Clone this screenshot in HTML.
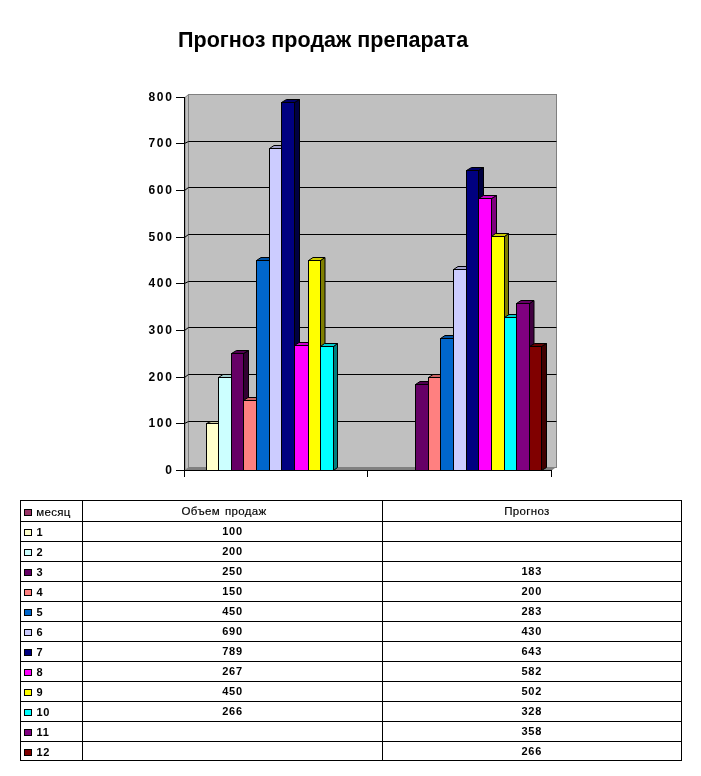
<!DOCTYPE html>
<html lang="ru"><head><meta charset="utf-8"><title>Прогноз продаж препарата</title>
<style>
html,body{margin:0;padding:0;background:#fff;}
body{width:701px;height:776px;position:relative;overflow:hidden;font-family:"Liberation Sans",sans-serif;}
svg text{font-family:"Liberation Sans",sans-serif;fill:#000;}
.title{font-size:21.55px;font-weight:bold;}
.ax{font-size:12px;font-weight:bold;letter-spacing:1.8px;}
.tb{font-size:11px;font-weight:bold;letter-spacing:0.8px;}
.cy{font-size:11.5px;letter-spacing:0.33px;stroke:#000;stroke-width:0.15px;}
</style></head><body>
<svg width="701" height="776" viewBox="0 0 701 776" style="position:absolute;left:0;top:0">
<rect x="188.5" y="94.5" width="368" height="373.0" fill="#C0C0C0" stroke="#808080" stroke-width="1"/>
<polygon points="185.0,97.5 188.5,94.5 188.5,467.5 185.0,470.5" fill="#C0C0C0" stroke="#808080" stroke-width="1"/>
<polygon points="185.0,470.5 189.0,467.0 556.5,467.0 551.5,470.5" fill="#808080"/>
<polyline points="184.5,423.5 188.5,421.5 556.5,421.5" fill="none" stroke="#000" stroke-width="1"/>
<polyline points="184.5,377.5 188.5,374.5 556.5,374.5" fill="none" stroke="#000" stroke-width="1"/>
<polyline points="184.5,330.5 188.5,327.5 556.5,327.5" fill="none" stroke="#000" stroke-width="1"/>
<polyline points="184.5,283.5 188.5,281.5 556.5,281.5" fill="none" stroke="#000" stroke-width="1"/>
<polyline points="184.5,237.5 188.5,234.5 556.5,234.5" fill="none" stroke="#000" stroke-width="1"/>
<polyline points="184.5,190.5 188.5,187.5 556.5,187.5" fill="none" stroke="#000" stroke-width="1"/>
<polyline points="184.5,143.5 188.5,141.5 556.5,141.5" fill="none" stroke="#000" stroke-width="1"/>
<polygon points="218.5,423.5 223.0,421.5 223.0,468.5 218.5,470.5" fill="#7F7F66" stroke="#000" stroke-width="1" stroke-linejoin="round"/>
<polygon points="206.5,423.5 211.0,421.5 223.0,421.5 218.5,423.5" fill="#CCCCA3" stroke="#000" stroke-width="1" stroke-linejoin="round"/>
<rect x="206.5" y="423.5" width="12.0" height="47.0" fill="#FFFFCC" stroke="#000" stroke-width="1"/>
<polygon points="231.5,377.5 236.0,374.5 236.0,467.5 231.5,470.5" fill="#667F7F" stroke="#000" stroke-width="1" stroke-linejoin="round"/>
<polygon points="218.5,377.5 223.0,374.5 236.0,374.5 231.5,377.5" fill="#A3CCCC" stroke="#000" stroke-width="1" stroke-linejoin="round"/>
<rect x="218.5" y="377.5" width="13.0" height="93.0" fill="#CCFFFF" stroke="#000" stroke-width="1"/>
<polygon points="243.5,353.5 248.5,350.5 248.5,467.5 243.5,470.5" fill="#330033" stroke="#000" stroke-width="1" stroke-linejoin="round"/>
<polygon points="231.5,353.5 236.5,350.5 248.5,350.5 243.5,353.5" fill="#510051" stroke="#000" stroke-width="1" stroke-linejoin="round"/>
<rect x="231.5" y="353.5" width="12.0" height="117.0" fill="#660066" stroke="#000" stroke-width="1"/>
<polygon points="256.5,400.5 261.0,397.5 261.0,467.5 256.5,470.5" fill="#7F4040" stroke="#000" stroke-width="1" stroke-linejoin="round"/>
<polygon points="243.5,400.5 248.0,397.5 261.0,397.5 256.5,400.5" fill="#CC6666" stroke="#000" stroke-width="1" stroke-linejoin="round"/>
<rect x="243.5" y="400.5" width="13.0" height="70.0" fill="#FF8080" stroke="#000" stroke-width="1"/>
<polygon points="269.5,260.5 274.0,257.5 274.0,467.5 269.5,470.5" fill="#003366" stroke="#000" stroke-width="1" stroke-linejoin="round"/>
<polygon points="256.5,260.5 261.0,257.5 274.0,257.5 269.5,260.5" fill="#0051A3" stroke="#000" stroke-width="1" stroke-linejoin="round"/>
<rect x="256.5" y="260.5" width="13.0" height="210.0" fill="#0066CC" stroke="#000" stroke-width="1"/>
<polygon points="281.5,148.5 286.0,145.5 286.0,467.5 281.5,470.5" fill="#66667F" stroke="#000" stroke-width="1" stroke-linejoin="round"/>
<polygon points="269.5,148.5 274.0,145.5 286.0,145.5 281.5,148.5" fill="#A3A3CC" stroke="#000" stroke-width="1" stroke-linejoin="round"/>
<rect x="269.5" y="148.5" width="12.0" height="322.0" fill="#CCCCFF" stroke="#000" stroke-width="1"/>
<polygon points="294.5,102.5 299.5,99.5 299.5,467.5 294.5,470.5" fill="#000040" stroke="#000" stroke-width="1" stroke-linejoin="round"/>
<polygon points="281.5,102.5 286.5,99.5 299.5,99.5 294.5,102.5" fill="#000066" stroke="#000" stroke-width="1" stroke-linejoin="round"/>
<rect x="281.5" y="102.5" width="13.0" height="368.0" fill="#000080" stroke="#000" stroke-width="1"/>
<polygon points="308.5,345.5 313.0,342.5 313.0,467.5 308.5,470.5" fill="#7F007F" stroke="#000" stroke-width="1" stroke-linejoin="round"/>
<polygon points="294.5,345.5 299.0,342.5 313.0,342.5 308.5,345.5" fill="#CC00CC" stroke="#000" stroke-width="1" stroke-linejoin="round"/>
<rect x="294.5" y="345.5" width="14.0" height="125.0" fill="#FF00FF" stroke="#000" stroke-width="1"/>
<polygon points="320.5,260.5 325.0,257.5 325.0,467.5 320.5,470.5" fill="#7F7F00" stroke="#000" stroke-width="1" stroke-linejoin="round"/>
<polygon points="308.5,260.5 313.0,257.5 325.0,257.5 320.5,260.5" fill="#CCCC00" stroke="#000" stroke-width="1" stroke-linejoin="round"/>
<rect x="308.5" y="260.5" width="12.0" height="210.0" fill="#FFFF00" stroke="#000" stroke-width="1"/>
<polygon points="333.5,346.5 337.5,343.5 337.5,467.5 333.5,470.5" fill="#007F7F" stroke="#000" stroke-width="1" stroke-linejoin="round"/>
<polygon points="320.5,346.5 324.5,343.5 337.5,343.5 333.5,346.5" fill="#00CCCC" stroke="#000" stroke-width="1" stroke-linejoin="round"/>
<rect x="320.5" y="346.5" width="13.0" height="124.0" fill="#00FFFF" stroke="#000" stroke-width="1"/>
<polygon points="428.5,384.5 433.0,381.5 433.0,467.5 428.5,470.5" fill="#330033" stroke="#000" stroke-width="1" stroke-linejoin="round"/>
<polygon points="415.5,384.5 420.0,381.5 433.0,381.5 428.5,384.5" fill="#510051" stroke="#000" stroke-width="1" stroke-linejoin="round"/>
<rect x="415.5" y="384.5" width="13.0" height="86.0" fill="#660066" stroke="#000" stroke-width="1"/>
<polygon points="440.5,377.5 445.0,374.5 445.0,467.5 440.5,470.5" fill="#7F4040" stroke="#000" stroke-width="1" stroke-linejoin="round"/>
<polygon points="428.5,377.5 433.0,374.5 445.0,374.5 440.5,377.5" fill="#CC6666" stroke="#000" stroke-width="1" stroke-linejoin="round"/>
<rect x="428.5" y="377.5" width="12.0" height="93.0" fill="#FF8080" stroke="#000" stroke-width="1"/>
<polygon points="453.5,338.5 458.0,335.5 458.0,467.5 453.5,470.5" fill="#003366" stroke="#000" stroke-width="1" stroke-linejoin="round"/>
<polygon points="440.5,338.5 445.0,335.5 458.0,335.5 453.5,338.5" fill="#0051A3" stroke="#000" stroke-width="1" stroke-linejoin="round"/>
<rect x="440.5" y="338.5" width="13.0" height="132.0" fill="#0066CC" stroke="#000" stroke-width="1"/>
<polygon points="466.5,269.5 471.0,266.5 471.0,467.5 466.5,470.5" fill="#66667F" stroke="#000" stroke-width="1" stroke-linejoin="round"/>
<polygon points="453.5,269.5 458.0,266.5 471.0,266.5 466.5,269.5" fill="#A3A3CC" stroke="#000" stroke-width="1" stroke-linejoin="round"/>
<rect x="453.5" y="269.5" width="13.0" height="201.0" fill="#CCCCFF" stroke="#000" stroke-width="1"/>
<polygon points="478.5,170.5 483.5,167.5 483.5,467.5 478.5,470.5" fill="#000040" stroke="#000" stroke-width="1" stroke-linejoin="round"/>
<polygon points="466.5,170.5 471.5,167.5 483.5,167.5 478.5,170.5" fill="#000066" stroke="#000" stroke-width="1" stroke-linejoin="round"/>
<rect x="466.5" y="170.5" width="12.0" height="300.0" fill="#000080" stroke="#000" stroke-width="1"/>
<polygon points="491.5,198.5 496.5,195.5 496.5,467.5 491.5,470.5" fill="#7F007F" stroke="#000" stroke-width="1" stroke-linejoin="round"/>
<polygon points="478.5,198.5 483.5,195.5 496.5,195.5 491.5,198.5" fill="#CC00CC" stroke="#000" stroke-width="1" stroke-linejoin="round"/>
<rect x="478.5" y="198.5" width="13.0" height="272.0" fill="#FF00FF" stroke="#000" stroke-width="1"/>
<polygon points="504.5,236.5 508.5,233.5 508.5,467.5 504.5,470.5" fill="#7F7F00" stroke="#000" stroke-width="1" stroke-linejoin="round"/>
<polygon points="491.5,236.5 495.5,233.5 508.5,233.5 504.5,236.5" fill="#CCCC00" stroke="#000" stroke-width="1" stroke-linejoin="round"/>
<rect x="491.5" y="236.5" width="13.0" height="234.0" fill="#FFFF00" stroke="#000" stroke-width="1"/>
<polygon points="516.5,317.5 521.0,314.5 521.0,467.5 516.5,470.5" fill="#007F7F" stroke="#000" stroke-width="1" stroke-linejoin="round"/>
<polygon points="504.5,317.5 509.0,314.5 521.0,314.5 516.5,317.5" fill="#00CCCC" stroke="#000" stroke-width="1" stroke-linejoin="round"/>
<rect x="504.5" y="317.5" width="12.0" height="153.0" fill="#00FFFF" stroke="#000" stroke-width="1"/>
<polygon points="529.5,303.5 534.0,300.5 534.0,467.5 529.5,470.5" fill="#400040" stroke="#000" stroke-width="1" stroke-linejoin="round"/>
<polygon points="516.5,303.5 521.0,300.5 534.0,300.5 529.5,303.5" fill="#660066" stroke="#000" stroke-width="1" stroke-linejoin="round"/>
<rect x="516.5" y="303.5" width="13.0" height="167.0" fill="#800080" stroke="#000" stroke-width="1"/>
<polygon points="541.5,346.5 546.5,343.5 546.5,467.5 541.5,470.5" fill="#400000" stroke="#000" stroke-width="1" stroke-linejoin="round"/>
<polygon points="529.5,346.5 534.5,343.5 546.5,343.5 541.5,346.5" fill="#660000" stroke="#000" stroke-width="1" stroke-linejoin="round"/>
<rect x="529.5" y="346.5" width="12.0" height="124.0" fill="#800000" stroke="#000" stroke-width="1"/>
<line x1="184.5" y1="97.0" x2="184.5" y2="477" stroke="#000" stroke-width="1"/>
<line x1="176" y1="470.5" x2="552.0" y2="470.5" stroke="#000" stroke-width="1"/>
<line x1="176" y1="423.5" x2="184.5" y2="423.5" stroke="#000" stroke-width="1"/>
<line x1="176" y1="377.5" x2="184.5" y2="377.5" stroke="#000" stroke-width="1"/>
<line x1="176" y1="330.5" x2="184.5" y2="330.5" stroke="#000" stroke-width="1"/>
<line x1="176" y1="283.5" x2="184.5" y2="283.5" stroke="#000" stroke-width="1"/>
<line x1="176" y1="237.5" x2="184.5" y2="237.5" stroke="#000" stroke-width="1"/>
<line x1="176" y1="190.5" x2="184.5" y2="190.5" stroke="#000" stroke-width="1"/>
<line x1="176" y1="143.5" x2="184.5" y2="143.5" stroke="#000" stroke-width="1"/>
<line x1="176" y1="97.5" x2="184.5" y2="97.5" stroke="#000" stroke-width="1"/>
<line x1="367.5" y1="470.5" x2="367.5" y2="477" stroke="#000" stroke-width="1"/>
<line x1="551.5" y1="470.5" x2="551.5" y2="477" stroke="#000" stroke-width="1"/>
<text class="ax" x="173.8" y="474.0" text-anchor="end">0</text>
<text class="ax" x="173.8" y="427.0" text-anchor="end">100</text>
<text class="ax" x="173.8" y="381.0" text-anchor="end">200</text>
<text class="ax" x="173.8" y="334.0" text-anchor="end">300</text>
<text class="ax" x="173.8" y="287.0" text-anchor="end">400</text>
<text class="ax" x="173.8" y="241.0" text-anchor="end">500</text>
<text class="ax" x="173.8" y="194.0" text-anchor="end">600</text>
<text class="ax" x="173.8" y="147.0" text-anchor="end">700</text>
<text class="ax" x="173.8" y="101.0" text-anchor="end">800</text>
<text class="title" transform="translate(178,46.5) scale(1,1.035)">Прогноз продаж препарата</text>
<rect x="20.5" y="500.5" width="661.0" height="260.00" fill="#fff" stroke="#000" stroke-width="1"/>
<line x1="20.5" y1="521.5" x2="681.5" y2="521.5" stroke="#000" stroke-width="1"/>
<line x1="20.5" y1="541.5" x2="681.5" y2="541.5" stroke="#000" stroke-width="1"/>
<line x1="20.5" y1="561.5" x2="681.5" y2="561.5" stroke="#000" stroke-width="1"/>
<line x1="20.5" y1="581.5" x2="681.5" y2="581.5" stroke="#000" stroke-width="1"/>
<line x1="20.5" y1="601.5" x2="681.5" y2="601.5" stroke="#000" stroke-width="1"/>
<line x1="20.5" y1="621.5" x2="681.5" y2="621.5" stroke="#000" stroke-width="1"/>
<line x1="20.5" y1="641.5" x2="681.5" y2="641.5" stroke="#000" stroke-width="1"/>
<line x1="20.5" y1="661.5" x2="681.5" y2="661.5" stroke="#000" stroke-width="1"/>
<line x1="20.5" y1="681.5" x2="681.5" y2="681.5" stroke="#000" stroke-width="1"/>
<line x1="20.5" y1="701.5" x2="681.5" y2="701.5" stroke="#000" stroke-width="1"/>
<line x1="20.5" y1="721.5" x2="681.5" y2="721.5" stroke="#000" stroke-width="1"/>
<line x1="20.5" y1="741.5" x2="681.5" y2="741.5" stroke="#000" stroke-width="1"/>
<line x1="82.5" y1="500.5" x2="82.5" y2="760.5" stroke="#000" stroke-width="1"/>
<line x1="382.5" y1="500.5" x2="382.5" y2="760.5" stroke="#000" stroke-width="1"/>
<rect x="24.5" y="509.50" width="7" height="6" fill="#993366" stroke="#000" stroke-width="1"/>
<text class="cy" x="36.2" y="515.80">месяц</text>
<text class="cy" style="word-spacing:1.5px" x="181.6" y="515.20">Объем продаж</text>
<text class="cy" x="504.2" y="515.20">Прогноз</text>
<rect x="24.5" y="529.50" width="7" height="6" fill="#FFFFCC" stroke="#000" stroke-width="1"/>
<text class="tb" x="36.4" y="536.10">1</text>
<text class="tb" x="232.6" y="535.10" text-anchor="middle">100</text>
<rect x="24.5" y="549.50" width="7" height="6" fill="#CCFFFF" stroke="#000" stroke-width="1"/>
<text class="tb" x="36.4" y="556.10">2</text>
<text class="tb" x="232.6" y="555.10" text-anchor="middle">200</text>
<rect x="24.5" y="569.50" width="7" height="6" fill="#660066" stroke="#000" stroke-width="1"/>
<text class="tb" x="36.4" y="576.10">3</text>
<text class="tb" x="232.6" y="575.10" text-anchor="middle">250</text>
<text class="tb" x="531.8" y="575.10" text-anchor="middle">183</text>
<rect x="24.5" y="589.50" width="7" height="6" fill="#FF8080" stroke="#000" stroke-width="1"/>
<text class="tb" x="36.4" y="596.10">4</text>
<text class="tb" x="232.6" y="595.10" text-anchor="middle">150</text>
<text class="tb" x="531.8" y="595.10" text-anchor="middle">200</text>
<rect x="24.5" y="609.50" width="7" height="6" fill="#0066CC" stroke="#000" stroke-width="1"/>
<text class="tb" x="36.4" y="616.10">5</text>
<text class="tb" x="232.6" y="615.10" text-anchor="middle">450</text>
<text class="tb" x="531.8" y="615.10" text-anchor="middle">283</text>
<rect x="24.5" y="629.50" width="7" height="6" fill="#CCCCFF" stroke="#000" stroke-width="1"/>
<text class="tb" x="36.4" y="636.10">6</text>
<text class="tb" x="232.6" y="635.10" text-anchor="middle">690</text>
<text class="tb" x="531.8" y="635.10" text-anchor="middle">430</text>
<rect x="24.5" y="649.50" width="7" height="6" fill="#000080" stroke="#000" stroke-width="1"/>
<text class="tb" x="36.4" y="656.10">7</text>
<text class="tb" x="232.6" y="655.10" text-anchor="middle">789</text>
<text class="tb" x="531.8" y="655.10" text-anchor="middle">643</text>
<rect x="24.5" y="669.50" width="7" height="6" fill="#FF00FF" stroke="#000" stroke-width="1"/>
<text class="tb" x="36.4" y="676.10">8</text>
<text class="tb" x="232.6" y="675.10" text-anchor="middle">267</text>
<text class="tb" x="531.8" y="675.10" text-anchor="middle">582</text>
<rect x="24.5" y="689.50" width="7" height="6" fill="#FFFF00" stroke="#000" stroke-width="1"/>
<text class="tb" x="36.4" y="696.10">9</text>
<text class="tb" x="232.6" y="695.10" text-anchor="middle">450</text>
<text class="tb" x="531.8" y="695.10" text-anchor="middle">502</text>
<rect x="24.5" y="709.50" width="7" height="6" fill="#00FFFF" stroke="#000" stroke-width="1"/>
<text class="tb" x="36.4" y="716.10">10</text>
<text class="tb" x="232.6" y="715.10" text-anchor="middle">266</text>
<text class="tb" x="531.8" y="715.10" text-anchor="middle">328</text>
<rect x="24.5" y="729.50" width="7" height="6" fill="#800080" stroke="#000" stroke-width="1"/>
<text class="tb" x="36.4" y="736.10">11</text>
<text class="tb" x="531.8" y="735.10" text-anchor="middle">358</text>
<rect x="24.5" y="749.50" width="7" height="6" fill="#800000" stroke="#000" stroke-width="1"/>
<text class="tb" x="36.4" y="756.10">12</text>
<text class="tb" x="531.8" y="755.10" text-anchor="middle">266</text>
</svg>
</body></html>
